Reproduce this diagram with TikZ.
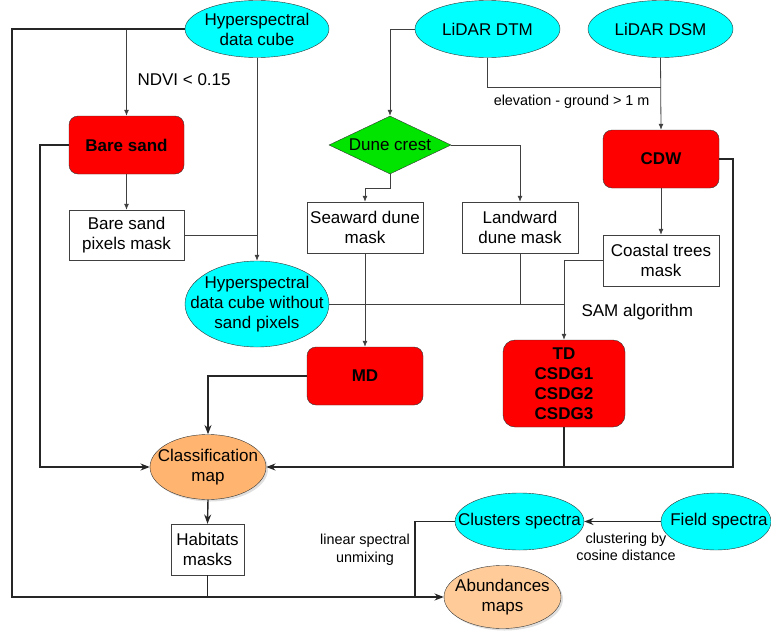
\documentclass[tikz,border=0pt]{standalone}
\usepackage{fontspec}
\setmainfont{Liberation Sans}
\usepackage{tikz}
\usetikzlibrary{shapes.geometric,arrows.meta,shadows}

\definecolor{cubecyan}{HTML}{00FFFF}
\definecolor{procred}{HTML}{FF0000}
\definecolor{crestgreen}{HTML}{00E400}
\definecolor{mapor}{HTML}{FFB570}
\definecolor{abundor}{HTML}{FFCC99}

\newcommand{\txtmain}{\fontsize{17}{20}\selectfont}
\newcommand{\txtsmall}{\fontsize{14.4}{17.5}\selectfont}

\tikzset{
  cubeell/.style={ellipse,draw=black!80,fill=cubecyan,inner sep=0pt,minimum width=144pt,minimum height=57pt},
  mapell/.style={ellipse,draw=black!80,fill=mapor,inner sep=0pt,minimum width=116pt,minimum height=65pt,
    drop shadow={opacity=0.25,shadow xshift=2pt,shadow yshift=-2pt}},
  procbox/.style={rectangle,rounded corners=9pt,draw=black!80,fill=procred,font=\txtmain\bfseries,align=center,
    minimum width=116pt,minimum height=58pt,inner sep=2pt},
  maskbox/.style={rectangle,draw=black!75,fill=white,font=\txtmain,align=center,
    minimum width=116pt,minimum height=51pt,inner sep=2pt},
  eltext/.style={font=\txtmain,align=center,inner sep=0pt},
  thinline/.style={line width=0.8pt,draw=black!75},
  thickline/.style={line width=1.4pt,draw=black!85}
}

\begin{document}
\begin{tikzpicture}[x=1pt,y=-1pt,>={Latex[length=6pt,width=5pt]}]
        \useasboundingbox (0,0) rectangle (771,632);

        % ------------------------------------------------ inputs
        \node[cubeell] (hdc) at (257,29) {};
        \node[eltext] (hdctxt) at (hdc) {Hyperspectral\\data cube};
        \node[cubeell,minimum width=145pt] (dtm) at (487.5,29) {};
        \node[eltext] (dtmtxt) at (dtm) {LiDAR DTM};
        \node[cubeell,minimum width=145pt] (dsm) at (660.5,29) {};
        \node[eltext] (dsmtxt) at (dsm) {LiDAR DSM};

        % ------------------------------------------------ masks
        \node[procbox,minimum width=115pt] (bare) at (126.5,145) {Bare sand};
        \node[maskbox,minimum width=115pt,minimum height=50pt] (sandmask) at (126.5,235) {Bare sand\\pixels mask};

        \node[diamond,draw=black!80,fill=crestgreen,inner sep=0pt,minimum width=122pt,minimum height=58pt,aspect=2.1] (crest) at (390,145) {};
        \node[eltext] (cresttxt) at (crest) {Dune crest};
        \node[maskbox] (seaward) at (365,227.5) {Seaward dune\\mask};
        \node[maskbox] (landward) at (520,227.5) {Landward\\dune mask};

        \node[procbox] (cdw) at (661,159) {CDW};
        \node[maskbox] (trees) at (661,260.5) {Coastal trees\\mask};

        \node[cubeell,minimum height=86pt] (hdcw) at (257,304) {};
        \node[eltext] (hdcwtxt) at (hdcw) {Hyperspectral\\data cube without\\sand pixels};

        % ------------------------------------------------ classes
        \node[procbox] (md) at (365,376) {MD};
        \node[procbox,minimum width=122pt,minimum height=87pt,rounded corners=12pt] (td) at (564,383.5) {TD\\CSDG1\\CSDG2\\CSDG3};

        \node[mapell] (cmap) at (208,467) {};
        \node[eltext] (cmaptxt) at (cmap) {Classification\\map};
        \node[maskbox,minimum width=73pt] (habitats) at (207.5,549.5) {Habitats\\masks};

        % ------------------------------------------------ spectra
        \node[cubeell,minimum width=129pt] (clusters) at (519.5,521.5) {};
        \node[eltext] (clusterstxt) at (clusters) {Clusters spectra};
        \node[cubeell,minimum width=110pt] (field) at (716,521.5) {};
        \node[eltext] (fieldtxt) at (719,521.5) {Field spectra};
        \node[mapell,fill=abundor,minimum width=117pt,minimum height=63pt] (abund) at (502.5,597) {};
        \node[eltext] (abundtxt) at (abund) {Abundances\\maps};

        % ------------------------------------------------ labels
        \node[anchor=west,font=\txtmain] (ndvi) at (134,80) {NDVI < 0.15};
        \node[anchor=east,font=\txtsmall] (elev) at (653,102) {elevation - ground > 1 m};
        \node[anchor=west,font=\txtmain] (sam) at (578,312) {SAM algorithm};
        \node[align=center,font=\txtsmall] (cosine) at (626,547) {clustering by\\cosine distance};
        \node[align=center,font=\txtsmall] (unmix) at (365,550) {linear spectral\\unmixing};

        % ------------------------------------------------ rails
        \coordinate (leftrail) at (12,597);
        \coordinate (sandrail) at (40,467);
        \coordinate (cdwrail) at (733,467);
        \coordinate (elevjoin) at (661,87);
        \coordinate (unmixrail) at (415,597);

        % ------------------------------------------------ connectors
        \draw[thinline,->] (hdc.west -| bare.north) -- (bare.north);
        \draw[thinline,->] (hdc.south) -- (hdcw.north);
        \draw[thinline,->] (bare.south) -- (sandmask.north);
        \draw[thinline] (sandmask.east) -- (sandmask.east -| hdc.south);

        \draw[thinline,->] (dtm.west) -| (crest.north);
        \draw[thinline] (dtm.south) |- (elevjoin);
        \draw[thinline,->] (dsm.south) -- (cdw.north);
        \draw[thinline,->] (crest.south) -- ++(0,14) -| (seaward.north);
        \draw[thinline,->] (crest.east) -| (landward.north);
        \draw[thinline,->] (cdw.south) -- (trees.north);

        \draw[thinline] (hdcw.east) -- (hdcw.east -| td.north);
        \draw[thinline] (landward.south) -- (landward.south |- hdcw.east);
        \draw[thinline,->] (trees.west) -| (td.north);
        \draw[thinline,->] (seaward.south) -- (md.north);

        \draw[thickline,-Stealth] (bare.west) -| (sandrail) -- (cmap.west);
        \draw[thickline,-Stealth] (md.west) -| (cmap.north);
        \draw[thickline,-Stealth] (cdw.east) -| (cdwrail) -- (cmap.east);
        \draw[thickline] (td.south) -- (td.south |- cmap.east);
        \draw[thickline,-Stealth] (cmap.south) -- (habitats.north);

        \draw[thickline,-Stealth] (hdc.west) -| (leftrail) -- (abund.west);
        \draw[thickline] (habitats.south) -- (habitats.south |- leftrail);
        \draw[thickline] (clusters.west) -| (unmixrail);
        \draw[thickline,-Stealth] (field.west) -- (clusters.east);

\end{tikzpicture}
\end{document}
